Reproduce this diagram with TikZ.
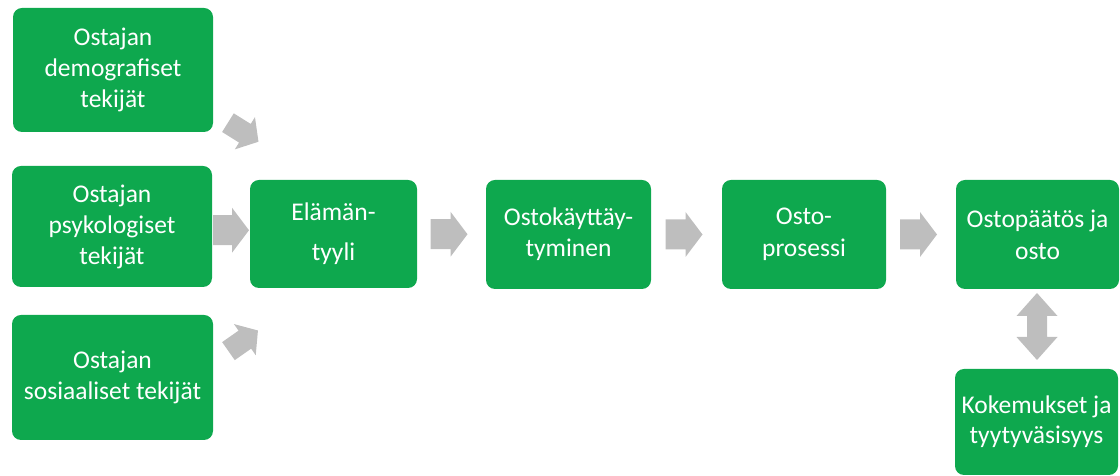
\documentclass[tikz,border=0pt]{standalone}
\usepackage{fontspec}
\setmainfont{Carlito}
\usetikzlibrary{calc}
\definecolor{boxgreen}{RGB}{14,168,78}
\definecolor{arrowgray}{RGB}{190,190,190}
% block arrow: centre coordinate, angle, length, shaft half-width, head half-width, head length
\newcommand{\blockarr}[6]{%
  \fill[arrowgray,shift={(#1)},rotate=#2]
    (-#3/2,-#4) -- ({#3/2-#6},-#4) -- ({#3/2-#6},-#5) -- ({#3/2},0)
    -- ({#3/2-#6},#5) -- ({#3/2-#6},#4) -- (-#3/2,#4) -- cycle;}
\begin{document}
\begin{tikzpicture}[x=1pt,y=1pt,
  box/.style={draw=none, fill=boxgreen, rounded corners=9pt, text=white,
    align=center, inner sep=0pt, font=\fontsize{25.5}{31}\selectfont},
]
\useasboundingbox (0,0) rectangle (1120,476);

\node[box, minimum width=200pt, minimum height=124pt] (demo) at (113,406) {Ostajan\\demografiset\\tekijät};
\node[box, minimum width=200pt, minimum height=121pt] (psyk) at (112,249.5) {Ostajan\\psykologiset\\tekijät};
\node[box, minimum width=201pt, minimum height=125pt] (sosi) at (112.5,98.5) {Ostajan\\sosiaaliset tekijät};
\node[box, minimum width=167pt, minimum height=108pt] (elam) at (333.5,242) {Elämän-\\[9pt]tyyli};
\node[box, minimum width=165pt, minimum height=109pt] (kayt) at (568.5,241.5) {Ostokäyttäy-\\tyminen};
\node[box, minimum width=164pt, minimum height=109pt] (pros) at (804,241.5) {Osto-\\[1pt]prosessi};
\node[box, minimum width=163pt, minimum height=109pt] (paat) at (1037.5,241.5) {Ostopäätös ja\\[1pt]osto};
\node[box, minimum width=163pt, minimum height=106pt] (koke) at (1036.5,54) {Kokemukset ja\\[-1pt]tyytyväsisyys};

\coordinate (a1c) at ($(demo.south east)+(30,0)$);
\coordinate (a2c) at ($(psyk.east)!0.5!(elam.west)$);
\coordinate (a3c) at ($(sosi.north east)+(30,-26)$);
\coordinate (h1c) at ($(elam.east)!0.5!(kayt.west)+(-2.5,0)$);
\coordinate (h2c) at ($(kayt.east)!0.5!(pros.west)+(-2.5,0)$);
\coordinate (h3c) at ($(pros.east)!0.5!(paat.west)+(-2.5,0)$);
\coordinate (vc) at ($(paat.south)!0.5!(koke.north)+(0,2.5)$);

\blockarr{a1c}{-32}{36}{11}{19}{16}
\blockarr{a2c}{0}{36}{15}{22.5}{17}
\blockarr{a3c}{35}{36}{11}{19}{16}
\blockarr{h1c}{0}{37}{15}{22.5}{17}
\blockarr{h2c}{0}{37}{15}{22.5}{17}
\blockarr{h3c}{0}{37}{15}{22.5}{17}

\fill[arrowgray, shift={(vc)}, rotate=90]
  (-33.5,0) -- (-10.5,20.5) -- (-10.5,10) -- (10.5,10) -- (10.5,20.5)
  -- (33.5,0) -- (10.5,-20.5) -- (10.5,-10) -- (-10.5,-10) -- (-10.5,-20.5) -- cycle;
\end{tikzpicture}
\end{document}
